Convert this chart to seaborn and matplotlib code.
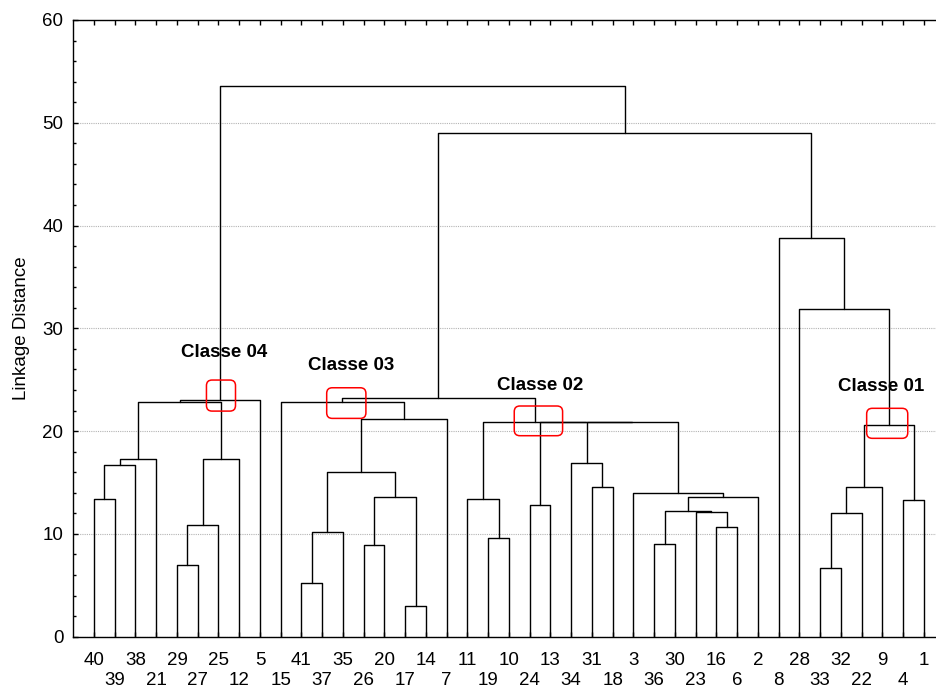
import numpy as np
import pandas as pd
import matplotlib
matplotlib.use("Agg")
import matplotlib.pyplot as plt
from matplotlib.ticker import MultipleLocator, FixedLocator, NullLocator
from matplotlib.patches import FancyBboxPatch
import seaborn as sns

# ---------------- data ----------------
leaf_order = [40, 39, 38, 21, 29, 27, 25, 12, 5, 15, 41, 37, 35, 26, 20, 17, 14, 7,
              11, 19, 10, 24, 13, 34, 31, 18, 3, 36, 30, 23, 16, 6, 2, 8, 28, 33,
              32, 22, 9, 4, 1]

# merges: children are leaf numbers (int) or earlier merge names "nK"
merge_left = [40, "n1", "n2", 29, "n4", "n5", "n3", "n7",
              41, "n9", 26, 17, "n11", "n10", "n14", 15,
              19, 11, 24, 31, 34, 36, 16, 23, "n22", "n25", 3, "n21", "n19", "n18",
              "n16",
              33, "n32", "n33", 4, "n34", 28, 8,
              "n31", "n8"]
merge_right = [39, 38, 21, 27, 25, 12, "n6", 5,
               37, 35, 20, 14, "n12", "n13", 7, "n15",
               10, "n17", 13, 18, "n20", 30, 6, "n23", "n24", 2, "n26", "n27", "n28", "n29",
               "n30",
               32, 22, 9, 1, "n35", "n36", "n37",
               "n38", "n39"]
merge_height = [13.37, 16.67, 17.30, 6.94, 10.83, 17.30, 22.83, 23.06,
                5.19, 10.18, 8.95, 2.99, 13.62, 16.05, 21.15, 22.83,
                9.57, 13.37, 12.84, 14.59, 16.93, 8.99, 10.64, 12.15, 12.20, 13.56, 13.95,
                20.85, 20.88, 20.90,
                23.19,
                6.71, 12.00, 14.59, 13.30, 20.56, 31.88, 38.80,
                48.97, 53.60]

class_labels = ["Classe 04", "Classe 03", "Classe 02", "Classe 01"]

# ---------------- build link segments ----------------
pos = {leaf: float(i) for i, leaf in enumerate(leaf_order)}
hgt = {leaf: 0.0 for leaf in leaf_order}
rows = []
for k, (l, r, h) in enumerate(zip(merge_left, merge_right, merge_height)):
    xl, xr = pos[l], pos[r]
    rows += [(k, 0, xl, hgt[l]), (k, 1, xl, h), (k, 2, xr, h), (k, 3, xr, hgt[r])]
    name = f"n{k + 1}"
    pos[name] = (xl + xr) / 2.0
    hgt[name] = h
seg = pd.DataFrame(rows, columns=["link", "order", "x", "y"])

# ---------------- figure ----------------
sns.set_theme(style="ticks")
plt.rcParams["font.family"] = ["Liberation Sans", "DejaVu Sans"]

fig = plt.figure(figsize=(9.37, 6.89), dpi=100)
ax = fig.add_axes([73 / 937, 52.3 / 689, (937 - 73) / 937, (636.7 - 20) / 689])

sns.lineplot(data=seg, x="x", y="y", units="link", estimator=None, sort=False,
             color="black", linewidth=1.0, ax=ax, legend=False, zorder=3)

ax.set_xlim(-1.012, 40.63)
ax.set_ylim(0, 60)

# grid
ax.set_axisbelow(True)
ax.yaxis.grid(True, which="major", linestyle=(0, (1, 1)), color="#b4b4b4", linewidth=0.8)
ax.xaxis.grid(False)

# spines
for s in ["left", "top", "bottom"]:
    ax.spines[s].set_visible(True)
    ax.spines[s].set_color("black")
    ax.spines[s].set_linewidth(1.0)
ax.spines["right"].set_visible(False)

# ticks
ax.yaxis.set_major_locator(MultipleLocator(10))
ax.yaxis.set_minor_locator(MultipleLocator(2))
ax.xaxis.set_major_locator(FixedLocator(range(len(leaf_order))))
ax.xaxis.set_minor_locator(NullLocator())
xt_labels = [str(l) if i % 2 == 0 else "\n" + str(l) for i, l in enumerate(leaf_order)]
ax.set_xticklabels(xt_labels)
for t in ax.get_xticklabels():
    t.set_linespacing(1.2)

ax.tick_params(axis="y", which="major", direction="in", length=3.5, width=1.0,
               labelsize=13.5, pad=7, colors="black", right=False)
ax.tick_params(axis="y", which="minor", direction="in", length=2.5, width=1.0,
               colors="black", right=False)
ax.tick_params(axis="x", which="major", direction="in", length=3.5, width=1.0,
               labelsize=13.5, pad=11, colors="black", top=True, bottom=True)

ax.set_xlabel("")
ax.set_ylabel("Linkage Distance", fontsize=13.5, labelpad=9, color="black")

# class annotations
box_cx = [6.12, 12.16, 21.42, 38.23]
box_cy = [23.46, 22.73, 21.00, 20.76]
box_w = [1.40, 1.89, 2.33, 1.98]
box_h = [3.02, 2.98, 2.89, 2.92]
txt_x = [6.29, 12.39, 21.48, 37.96]
txt_y = [27.65, 26.43, 24.40, 24.32]
aspect = 20.75 / 10.28
for lab, cx, cy, w, h, tx, ty in zip(class_labels, box_cx, box_cy, box_w, box_h, txt_x, txt_y):
    patch = FancyBboxPatch((cx - w / 2, cy - h / 2), w, h,
                           boxstyle="round,pad=0,rounding_size=0.27",
                           mutation_aspect=aspect,
                           facecolor="none", edgecolor="#ff0000", linewidth=1.1, zorder=4)
    ax.add_patch(patch)
    ax.text(tx, ty, lab, ha="center", va="center", fontsize=13.5,
            fontweight="bold", color="black", zorder=5)

fig.savefig("out.png", dpi=100)
